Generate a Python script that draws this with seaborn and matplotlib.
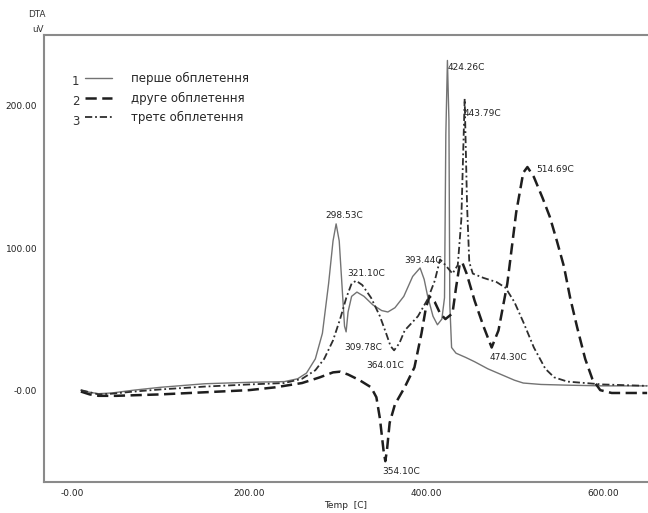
import matplotlib
matplotlib.use("Agg")
import matplotlib.pyplot as plt
import pandas as pd
import seaborn as sns

# криві DTA, значення
t1 = [10, 20, 30, 45, 70, 100, 150, 200, 240, 255, 265, 275, 283, 290, 295, 298.5,
      302, 305, 308, 309.8, 312, 316, 322, 330, 340, 350, 357, 365, 375, 385, 393.4,
      398, 402, 408, 413, 418, 421, 422.5, 424.3, 426, 427, 429, 434, 445, 455, 470,
      485, 500, 510, 530, 560, 600, 650]
v1 = [0, -1.5, -2.5, -2, 0, 2, 4.5, 5.5, 6, 8, 12, 22, 40, 75, 105, 117,
      105, 75, 45, 41, 55, 66, 69, 66, 60, 56, 55, 58, 66, 80, 86,
      78, 66, 52, 46, 50, 65, 180, 232, 190, 60, 30, 26, 23, 20, 15,
      11, 7, 5, 4, 3.5, 3, 3]

t2 = [10, 20, 30, 50, 100, 150, 200, 230, 260, 280, 295, 303, 312, 325, 338, 344,
      348, 352, 354.1, 356, 359, 365, 376, 387, 395, 400, 404, 410, 416, 422, 430,
      434, 438, 441, 446, 455, 465, 474.3, 482, 492, 502, 510, 514.7, 522, 532,
      540, 548, 556, 563, 571, 580, 588, 597, 610, 650]
v2 = [-1, -3, -4, -4, -3, -1.5, 0, 2, 5, 9, 12.5, 13, 11, 7, 2, -5,
      -20, -42, -50, -42, -23, -10, 2, 16, 40, 58, 66, 62, 54, 50, 54,
      72, 88, 90, 82, 63, 45, 30, 42, 75, 125, 153, 157, 150, 135,
      122, 105, 87, 65, 44, 22, 8, 0, -2, -2]

t3 = [10, 20, 30, 45, 70, 100, 150, 200, 240, 260, 275, 285, 295, 303, 310, 316,
      321.1, 328, 338, 348, 355, 360, 364, 370, 376, 391, 402, 410, 416, 422, 430,
      436, 440, 443.8, 446.5, 449, 453, 465, 480, 490, 500, 510, 522, 535, 545,
      560, 600, 650]
v3 = [0, -1.5, -3, -2.5, -1, 0.5, 2.5, 4, 5, 8, 14, 22, 35, 50, 65, 75,
      77, 74, 65, 52, 40, 31, 28, 33, 42, 52, 64, 77, 92, 88, 82,
      88, 120, 205, 130, 90, 82, 79, 76, 72, 62, 48, 30, 15, 9,
      6, 4, 3]

names = ["перше обплетення", "друге обплетення", "третє обплетення"]

# підписи піків: (x тексту, y тексту, підпис)
peak_labels = [
    (286, 123, "298.53C"), (311, 82, "321.10C"), (308, 30, "309.78C"),
    (333, 17, "364.01C"), (376, 91, "393.44C"), (425, 227, "424.26C"),
    (442, 195, "443.79C"), (525, 155, "514.69C"), (472, 23, "474.30C"),
    (351, -57, "354.10C"),
]

x_ticks = [0, 200, 400, 600]
x_tick_labels = ["-0.00", "200.00", "400.00", "600.00"]
y_ticks = [0, 100, 200]
y_tick_labels = ["-0.00", "100.00", "200.00"]

sns.set_style("white")
plt.rcParams["font.family"] = ["DejaVu Sans"]

fig = plt.figure(figsize=(6.48, 5.13), dpi=100)
ax = fig.add_axes([0.068, 0.06, 0.932, 0.872])

df1 = pd.DataFrame({"t": t1, "v": v1})
df2 = pd.DataFrame({"t": t2, "v": v2})
df3 = pd.DataFrame({"t": t3, "v": v3})

sns.lineplot(data=df1, x="t", y="v", ax=ax, color="#737373", linewidth=1.0,
             estimator=None, sort=False, label=names[0])
sns.lineplot(data=df2, x="t", y="v", ax=ax, color="#1e1e1e", linewidth=1.8,
             linestyle=(0, (4.5, 2.2)), estimator=None, sort=False, label=names[1])
sns.lineplot(data=df3, x="t", y="v", ax=ax, color="#2e2e2e", linewidth=1.3,
             linestyle=(0, (4, 1.6, 1, 1.6)), estimator=None, sort=False, label=names[2])

for tx, ty, txt in peak_labels:
    ax.text(tx, ty, txt, fontsize=6.5, color="#222222", va="center", ha="left")

ax.set_xlim(-31.6, 651)
ax.set_ylim(-64.8, 250)
ax.set_xticks(x_ticks)
ax.set_xticklabels(x_tick_labels)
ax.set_yticks(y_ticks)
ax.set_yticklabels(y_tick_labels)
ax.tick_params(axis="x", direction="in", length=4, labelsize=6.5, colors="#555555",
               labelcolor="#222222", pad=5)
ax.tick_params(axis="y", direction="out", length=3, labelsize=6.5, colors="#555555",
               labelcolor="#222222", pad=2)
ax.set_xlabel("Temp  [C]", fontsize=6.5, labelpad=2)
ax.set_ylabel("")

for side in ["left", "top", "bottom"]:
    ax.spines[side].set_color("#8a8a8a")
    ax.spines[side].set_linewidth(1.5)
ax.spines["right"].set_visible(False)

fig.text(0.071, 0.971, "DTA", fontsize=6.3, ha="right", va="center", color="#333333")
fig.text(0.068, 0.943, "uV", fontsize=6.3, ha="right", va="center", color="#333333")

leg = ax.legend(loc="upper left", bbox_to_anchor=(0.058, 0.93), frameon=False,
                fontsize=8.5, handlelength=2.3, handletextpad=1.6, labelspacing=0.55,
                borderpad=0)
for i, row_y in enumerate([0.895, 0.85, 0.806]):
    ax.text(0.046, row_y, str(i + 1), transform=ax.transAxes, fontsize=8.5,
            color="#333333", va="center")

fig.savefig("out.png", dpi=100)
